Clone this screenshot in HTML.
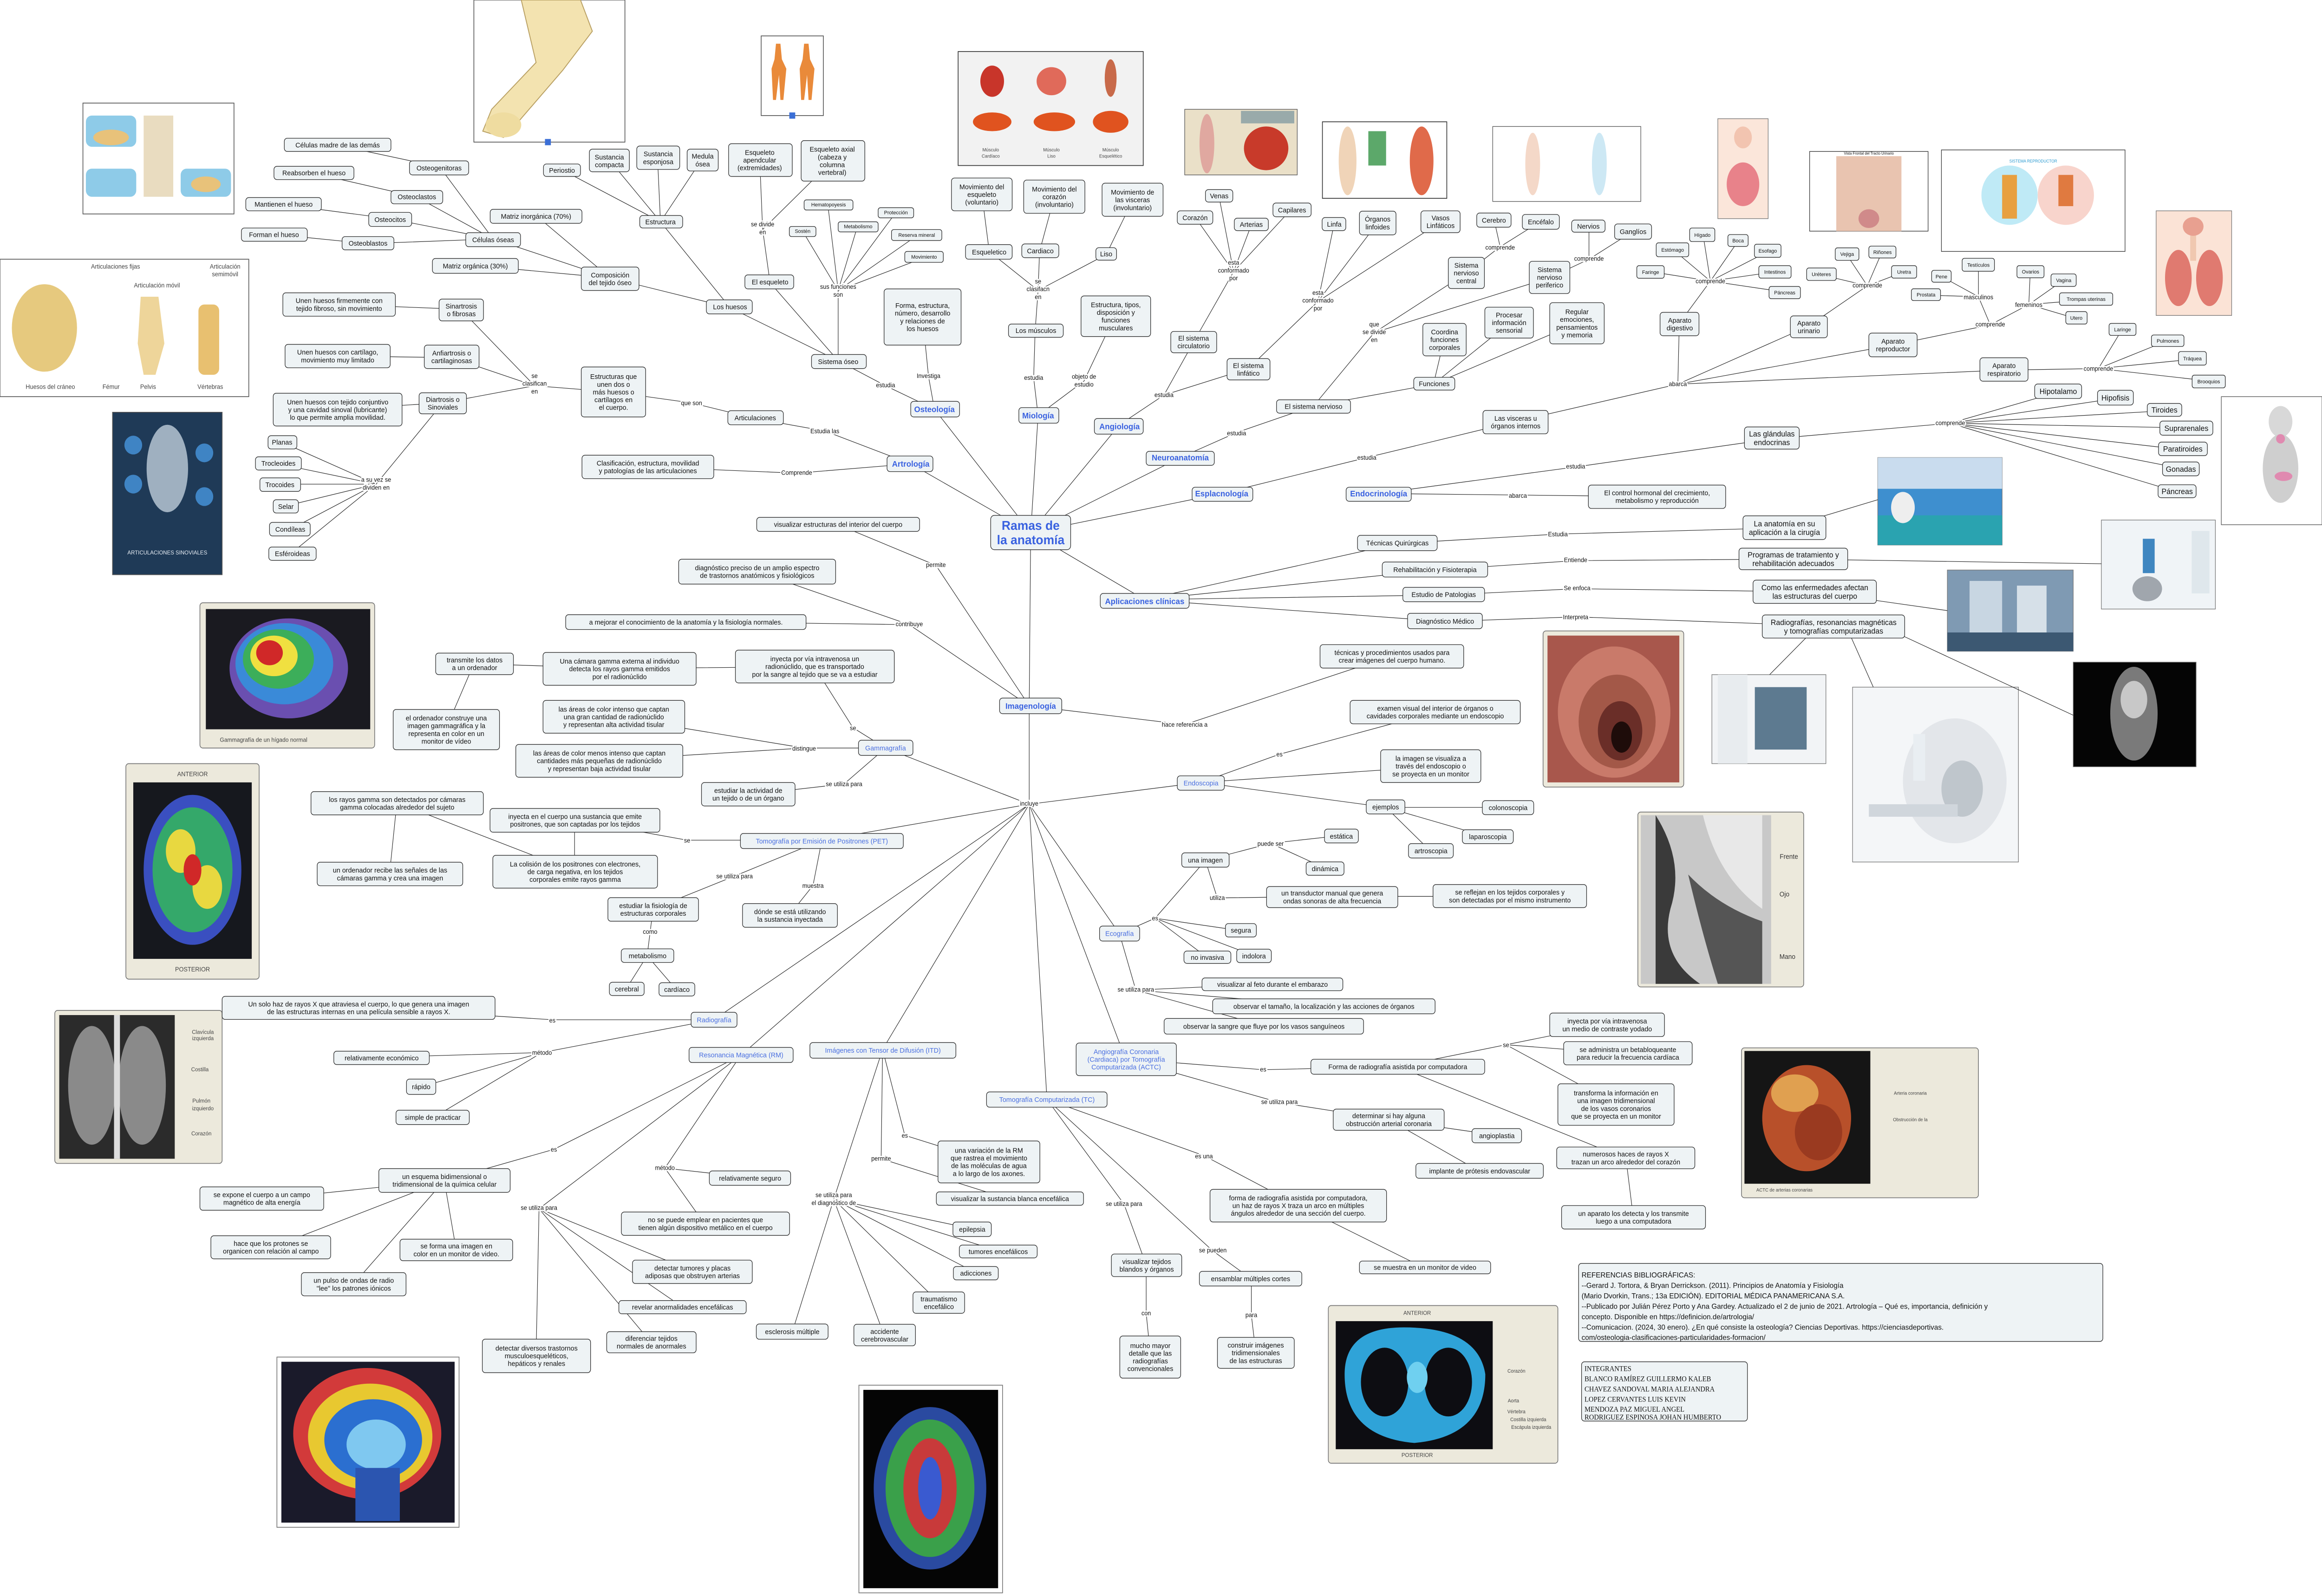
<!DOCTYPE html>
<html><head><meta charset="utf-8">
<style>
html,body{margin:0;padding:0;background:#fff;overflow:hidden;width:100vw;height:100vh}
svg{display:block;width:100vw;height:100vh}
.r{fill:#eef3f5;stroke:#2a2a2a;stroke-width:.4}
text{font-family:"Liberation Sans",sans-serif;font-size:4.5px;fill:#111;text-anchor:middle}
.b{font-size:5.3px;font-weight:bold;fill:#3a62e0}
.bl{fill:#4a6fe0}
.s{font-size:3.4px}
.m{font-size:5px}
.l{font-size:4px;paint-order:stroke;stroke:#fff;stroke-width:1.6px}
.e{fill:none;stroke:#222;stroke-width:.35}
.cap{font-size:3px;fill:#444}
</style></head><body>
<svg viewBox="0 0 1568 1022" preserveAspectRatio="none" xmlns="http://www.w3.org/2000/svg">
<rect width="1568" height="1022" fill="#fff"/>

<!-- ============ IMAGES ============ -->
<rect x="320" y="0" width="102" height="91" fill="#fff" stroke="#555" stroke-width=".5"/>
<path d="M352 0 L392 0 L400 20 L380 45 L350 78 L340 88 L326 84 L332 70 L362 40 Z" fill="#f3e3b0" stroke="#b9a063" stroke-width=".6"/>
<ellipse cx="340" cy="80" rx="12" ry="8" fill="#efdca0"/>
<rect x="368" y="89" width="4" height="4" fill="#3b6fd6"/>
<rect x="514" y="23" width="42" height="51" fill="#fff" stroke="#555" stroke-width=".5"/>
<path d="M524 28 l3 0 l1 10 l3 6 l-2 20 l-2 0 l-1 -16 l-2 16 l-2 0 l-1 -20 l2 -6z" fill="#e98a3a"/>
<path d="M543 28 l3 0 l1 10 l3 6 l-2 20 l-2 0 l-1 -16 l-2 16 l-2 0 l-1 -20 l2 -6z" fill="#e98a3a"/>
<rect x="533" y="72" width="4" height="4" fill="#3b6fd6"/>
<rect x="647" y="33" width="125" height="73" fill="#f2f2f2" stroke="#333" stroke-width=".5"/>
<ellipse cx="670" cy="52" rx="8" ry="10" fill="#c8352a"/><ellipse cx="710" cy="52" rx="10" ry="9" fill="#e06a5a"/><ellipse cx="750" cy="50" rx="4" ry="12" fill="#c86a4a"/>
<ellipse cx="670" cy="78" rx="13" ry="6" fill="#e0531f"/><ellipse cx="712" cy="78" rx="14" ry="6" fill="#e0531f"/><ellipse cx="750" cy="78" rx="12" ry="7" fill="#e0531f"/>
<text class="cap" x="669" y="97">Músculo</text><text class="cap" x="669" y="101">Cardíaco</text>
<text class="cap" x="710" y="97">Músculo</text><text class="cap" x="710" y="101">Liso</text>
<text class="cap" x="750" y="97">Músculo</text><text class="cap" x="750" y="101">Esquelético</text>
<rect x="56" y="66" width="102" height="71" fill="#fff" stroke="#555" stroke-width=".5"/>
<rect x="58" y="74" width="34" height="20" rx="4" fill="#8ecbe8"/><rect x="58" y="108" width="34" height="18" rx="4" fill="#8ecbe8"/>
<rect x="97" y="74" width="20" height="52" fill="#e9dcc0"/><rect x="122" y="108" width="34" height="18" rx="4" fill="#8ecbe8"/>
<ellipse cx="75" cy="88" rx="12" ry="5" fill="#e8c27a"/><ellipse cx="139" cy="118" rx="10" ry="5" fill="#e8c27a"/>
<rect x="0" y="166" width="168" height="88" fill="#fff" stroke="#555" stroke-width=".5"/>
<ellipse cx="30" cy="210" rx="22" ry="28" fill="#e6c97e"/>
<path d="M95 190 l12 0 l4 30 l-6 20 l-8 0 l-4 -20z" fill="#eed59a"/>
<rect x="134" y="195" width="14" height="45" rx="4" fill="#e8c070"/>
<text class="cap" x="78" y="172" style="font-size:4px">Articulaciones fijas</text>
<text class="cap" x="106" y="184" style="font-size:4px">Articulación móvil</text>
<text class="cap" x="152" y="172" style="font-size:4px">Articulación</text>
<text class="cap" x="152" y="177" style="font-size:4px">semimóvil</text>
<text class="cap" x="34" y="249" style="font-size:4px">Huesos del cráneo</text>
<text class="cap" x="75" y="249" style="font-size:4px">Fémur</text><text class="cap" x="100" y="249" style="font-size:4px">Pelvis</text>
<text class="cap" x="142" y="249" style="font-size:4px">Vértebras</text>
<rect x="76" y="264" width="74" height="104" fill="#1f3a57" stroke="#555" stroke-width=".5"/>
<ellipse cx="113" cy="300" rx="14" ry="28" fill="#9fb0c0"/>
<circle cx="90" cy="285" r="6" fill="#3f84c4"/><circle cx="90" cy="310" r="6" fill="#3f84c4"/><circle cx="138" cy="290" r="6" fill="#3f84c4"/><circle cx="138" cy="318" r="6" fill="#3f84c4"/>
<text x="113" y="355" style="font-size:3.6px;fill:#e8eef5">ARTICULACIONES SINOVIALES</text>
<rect x="135" y="386" width="118" height="93" fill="#ece9dc" stroke="#777" stroke-width=".5" rx="2"/>
<rect x="139" y="390" width="111" height="77" fill="#1a1a20"/>
<ellipse cx="195" cy="428" rx="40" ry="32" fill="#6a4fb0"/><ellipse cx="192" cy="425" rx="33" ry="26" fill="#3a8ad8"/>
<ellipse cx="188" cy="422" rx="24" ry="19" fill="#3cae5a"/><ellipse cx="185" cy="420" rx="16" ry="13" fill="#f0e040"/><ellipse cx="182" cy="418" rx="9" ry="8" fill="#d02828"/>
<text class="cap" x="178" y="475" style="font-size:3.8px">Gammagrafía de un hígado normal</text>
<rect x="85" y="489" width="90" height="138" fill="#ece9dc" stroke="#777" stroke-width=".5" rx="2"/>
<text class="cap" x="130" y="497" style="font-size:4px">ANTERIOR</text>
<rect x="90" y="501" width="80" height="113" fill="#16181e"/>
<ellipse cx="130" cy="557" rx="33" ry="48" fill="#3a4fc0"/><ellipse cx="130" cy="557" rx="27" ry="40" fill="#34a86a"/>
<ellipse cx="122" cy="545" rx="10" ry="14" fill="#e8d840"/><ellipse cx="140" cy="568" rx="10" ry="14" fill="#e8d840"/><ellipse cx="130" cy="557" rx="6" ry="10" fill="#d02828"/>
<text class="cap" x="130" y="622" style="font-size:4px">POSTERIOR</text>
<rect x="37" y="647" width="113" height="98" fill="#ece9dc" stroke="#777" stroke-width=".5" rx="2"/>
<rect x="40" y="650" width="78" height="92" fill="#2b2b2b"/>
<ellipse cx="62" cy="695" rx="16" ry="38" fill="#8a8a8a"/><ellipse cx="96" cy="695" rx="16" ry="38" fill="#8a8a8a"/><rect x="77" y="650" width="4" height="92" fill="#ddd"/>
<text class="cap" x="137" y="662" style="font-size:3.6px">Clavícula</text><text class="cap" x="137" y="666" style="font-size:3.6px">izquierda</text>
<text class="cap" x="135" y="686" style="font-size:3.6px">Costilla</text>
<text class="cap" x="136" y="706" style="font-size:3.6px">Pulmón</text><text class="cap" x="137" y="711" style="font-size:3.6px">izquierdo</text>
<text class="cap" x="136" y="727" style="font-size:3.6px">Corazón</text>
<rect x="187" y="869" width="123" height="109" fill="#fff" stroke="#777" stroke-width=".5"/>
<rect x="190" y="872" width="117" height="103" fill="#1a1a2a"/>
<ellipse cx="248" cy="918" rx="50" ry="42" fill="#d23a3a"/><ellipse cx="250" cy="920" rx="42" ry="34" fill="#e8c830"/><ellipse cx="252" cy="922" rx="33" ry="26" fill="#2b6fd0"/><ellipse cx="254" cy="925" rx="20" ry="16" fill="#7fc8f0"/>
<rect x="240" y="940" width="30" height="34" fill="#2b55b0"/>
<rect x="580" y="887" width="97" height="133" fill="#fff" stroke="#777" stroke-width=".5"/>
<rect x="583" y="890" width="91" height="127" fill="#050505"/>
<ellipse cx="628" cy="953" rx="38" ry="52" fill="#2a4aa0"/><ellipse cx="628" cy="953" rx="30" ry="44" fill="#3aa04a"/><ellipse cx="628" cy="953" rx="18" ry="32" fill="#c83a3a"/><ellipse cx="628" cy="953" rx="8" ry="20" fill="#3a5ad0"/>
<rect x="897" y="836" width="155" height="101" fill="#ece9dc" stroke="#777" stroke-width=".5" rx="2"/>
<text class="cap" x="957" y="842" style="font-size:3.6px">ANTERIOR</text>
<rect x="902" y="846" width="106" height="82" fill="#0d0d12"/>
<path d="M908 880 q0 -30 40 -30 q50 0 55 30 q0 40 -48 44 q-47 -4 -47 -44z" fill="#2fa3d8"/>
<ellipse cx="935" cy="885" rx="16" ry="22" fill="#0d0d12"/><ellipse cx="978" cy="885" rx="16" ry="22" fill="#0d0d12"/><ellipse cx="957" cy="882" rx="7" ry="10" fill="#6fd0f0"/>
<text class="cap" x="957" y="933" style="font-size:3.6px">POSTERIOR</text>
<text class="cap" x="1024" y="879" style="font-size:3.2px">Corazón</text><text class="cap" x="1022" y="898" style="font-size:3.2px">Aorta</text>
<text class="cap" x="1024" y="905" style="font-size:3.2px">Vértebra</text><text class="cap" x="1032" y="910" style="font-size:3.2px">Costilla izquierda</text><text class="cap" x="1034" y="915" style="font-size:3.2px">Escápula izquierda</text>
<rect x="1176" y="671" width="160" height="96" fill="#ece9dc" stroke="#777" stroke-width=".5" rx="2"/>
<rect x="1178" y="673" width="85" height="85" fill="#151515"/>
<ellipse cx="1220" cy="716" rx="30" ry="34" fill="#b8502a"/><ellipse cx="1212" cy="700" rx="16" ry="12" fill="#e0a050"/><ellipse cx="1228" cy="725" rx="16" ry="18" fill="#9a3a20"/>
<text class="cap" x="1290" y="701" style="font-size:3px">Arteria coronaria</text><text class="cap" x="1290" y="718" style="font-size:3px">Obstrucción de la</text>
<text class="cap" x="1205" y="763" style="font-size:3px">ACTC de arterias coronarias</text>
<rect x="1106" y="520" width="112" height="112" fill="#ece9dc" stroke="#777" stroke-width=".5" rx="2"/>
<rect x="1108" y="522" width="88" height="108" fill="#c8c8c8"/>
<path d="M1118 522 q20 30 10 60 q-8 30 20 48 l-30 0z" fill="#3a3a3a"/><path d="M1150 522 q10 40 40 60 l0 -60z" fill="#e8e8e8"/>
<path d="M1140 560 q20 20 50 30 l0 40 l-30 0 q-10 -30 -20 -70z" fill="#555"/>
<text x="1208" y="550" style="font-size:4.3px;fill:#333">Frente</text><text x="1205" y="574" style="font-size:4.3px;fill:#333">Ojo</text><text x="1207" y="614" style="font-size:4.3px;fill:#333">Mano</text>
<rect x="1042" y="404" width="95" height="100" fill="#ece9dc" stroke="#777" stroke-width=".5" rx="2"/>
<rect x="1045" y="407" width="89" height="94" fill="#a8574c"/>
<ellipse cx="1090" cy="456" rx="38" ry="42" fill="#c97a6a"/><ellipse cx="1092" cy="462" rx="26" ry="30" fill="#a35848"/><ellipse cx="1094" cy="468" rx="15" ry="19" fill="#6a2e28"/><ellipse cx="1095" cy="472" rx="7" ry="10" fill="#1e0c0a"/>
<rect x="1156" y="432" width="77" height="57" fill="#f2f4f6" stroke="#777" stroke-width=".4"/>
<rect x="1185" y="440" width="35" height="40" fill="#5d7a90"/><rect x="1160" y="432" width="20" height="57" fill="#e8ecef"/>
<rect x="1251" y="440" width="112" height="112" fill="#f4f6f8" stroke="#777" stroke-width=".4"/>
<ellipse cx="1320" cy="500" rx="35" ry="40" fill="#e3e6ea"/><ellipse cx="1325" cy="505" rx="14" ry="18" fill="#bfc6cc"/>
<rect x="1262" y="515" width="60" height="8" fill="#d0d6dc"/><rect x="1292" y="470" width="8" height="30" fill="#e9eef2"/>
<rect x="1400" y="424" width="83" height="67" fill="#050505" stroke="#777" stroke-width=".4"/>
<ellipse cx="1441" cy="457" rx="16" ry="30" fill="#7a7a7a"/><ellipse cx="1441" cy="448" rx="9" ry="12" fill="#c8c8c8"/>
<rect x="1268" y="293" width="84" height="56" fill="#3e8fcf" stroke="#777" stroke-width=".4"/>
<rect x="1268" y="293" width="84" height="20" fill="#c9dcee"/><rect x="1268" y="330" width="84" height="19" fill="#2aa3b0"/>
<ellipse cx="1285" cy="325" rx="8" ry="10" fill="#eee"/>
<rect x="1419" y="333" width="77" height="57" fill="#f0f4f7" stroke="#777" stroke-width=".4"/>
<ellipse cx="1450" cy="377" rx="10" ry="8" fill="#a0a6ad"/><rect x="1447" y="345" width="8" height="22" fill="#3f86c0"/><rect x="1480" y="340" width="12" height="40" fill="#dfe7ec"/>
<rect x="1315" y="365" width="85" height="52" fill="#7f9ab3" stroke="#777" stroke-width=".4"/>
<rect x="1330" y="372" width="22" height="35" fill="#c8d6e2"/><rect x="1362" y="375" width="20" height="32" fill="#d6e0e8"/><rect x="1315" y="405" width="85" height="12" fill="#3c5872"/>
<rect x="1500" y="254" width="68" height="82" fill="#fff" stroke="#555" stroke-width=".4"/>
<ellipse cx="1540" cy="270" rx="8" ry="10" fill="#d8d8d8"/><ellipse cx="1540" cy="300" rx="12" ry="22" fill="#cfcfcf"/><ellipse cx="1540" cy="281" rx="3" ry="3" fill="#e08ab0"/><ellipse cx="1542" cy="305" rx="6" ry="3" fill="#e08ab0"/>
<rect x="1456" y="135" width="51" height="67" fill="#fbe3d6" stroke="#777" stroke-width=".4"/>
<ellipse cx="1471" cy="178" rx="9" ry="18" fill="#e07a70"/><ellipse cx="1492" cy="178" rx="9" ry="18" fill="#e07a70"/><rect x="1479" y="145" width="4" height="22" fill="#f0c8b0"/><ellipse cx="1481" cy="145" rx="7" ry="6" fill="#e8a090"/>
<rect x="1311" y="96" width="124" height="65" fill="#fff" stroke="#333" stroke-width=".4"/>
<circle cx="1357" cy="125" r="19" fill="#bfeaf6"/><circle cx="1395" cy="125" r="19" fill="#f8d4cc"/>
<rect x="1352" y="112" width="10" height="28" fill="#e8a040"/><rect x="1390" y="112" width="10" height="20" fill="#e07a40"/>
<text x="1373" y="104" style="font-size:2.6px;fill:#2a9ad0">SISTEMA REPRODUCTOR</text>
<rect x="1222" y="97" width="80" height="51" fill="#fff" stroke="#333" stroke-width=".4"/>
<rect x="1240" y="100" width="44" height="48" fill="#e9c4b0"/><ellipse cx="1262" cy="140" rx="7" ry="6" fill="#d08a8a"/>
<text x="1262" y="99" style="font-size:2.4px">Vista Frontal del Tracto Urinario</text>
<rect x="1160" y="76" width="34" height="64" fill="#fbe6da" stroke="#777" stroke-width=".4"/>
<ellipse cx="1177" cy="88" rx="6" ry="7" fill="#f2c4b0"/><ellipse cx="1177" cy="118" rx="11" ry="14" fill="#e8828a"/>
<rect x="1008" y="81" width="100" height="48" fill="#fff" stroke="#555" stroke-width=".4"/>
<ellipse cx="1035" cy="105" rx="5" ry="20" fill="#f4d8c8"/><ellipse cx="1080" cy="105" rx="5" ry="20" fill="#cde8f4"/>
<rect x="893" y="78" width="84" height="49" fill="#fff" stroke="#333" stroke-width=".5"/>
<ellipse cx="910" cy="103" rx="6" ry="22" fill="#f0d4b8"/><rect x="924" y="84" width="12" height="22" fill="#5ca86a"/><ellipse cx="960" cy="103" rx="8" ry="22" fill="#e06a4a"/>
<rect x="800" y="70" width="76" height="42" fill="#eae0c8" stroke="#555" stroke-width=".4"/>
<ellipse cx="815" cy="92" rx="5" ry="19" fill="#e0a8a0"/><ellipse cx="855" cy="95" rx="15" ry="14" fill="#c83a2a"/><rect x="838" y="71" width="36" height="8" fill="#9aa"/>

<!-- ============ EDGES ============ -->
<path class="e" d="
M696 341 L631 262 M696 341 L615 297 M696 341 L701 266 M696 341 L756 272 M696 341 L797 293 M696 341 L825 316 M696 341 L773 384 M696 341 L695 452
M695 452 L632 362 L566 336 M695 452 L614 400 L463 398 M614 400 L511 366
M631 262 L598 247 L566 231 M631 262 L627 241 L623 203
M566 231 L493 197 M566 231 L520 181 M566 231 L566 186 L542 148 M566 186 L559 131 M566 186 L579 145 M566 186 L605 136 M566 186 L619 151 M566 186 L624 165
M520 181 L515 147 L513 102 M515 147 L562 103
M493 197 L446 142 M493 197 L412 178
M446 142 L380 109 M446 142 L412 103 M446 142 L444 101 M446 142 L474 102
M412 178 L362 138 M412 178 L333 153 M412 178 L321 170
M333 153 L297 107 M333 153 L281 126 M333 153 L263 140 M333 153 L248 156
M297 107 L228 93 M281 126 L212 111 M263 140 L191 131 M248 156 L185 150
M615 297 L557 276 L510 268 M615 297 L538 303 L438 299
M510 268 L467 258 L414 251 M414 251 L361 247 L311 198 M361 247 L305 229 M361 247 L299 258
M311 198 L229 195 M305 229 L228 228 M299 258 L228 262 M299 258 L254 310 L190 283 M254 310 L188 297 M254 310 L189 310 M254 310 L193 324 M254 310 L196 339 M254 310 L197 354
M701 266 L698 242 L699 212 M701 266 L732 244 L753 202
M699 212 L701 186 L668 161 M701 186 L702 161 M701 186 L747 163
M668 161 L663 124 M702 161 L712 126 M747 163 L765 128
M756 272 L786 253 L806 219 M786 253 L843 236
M806 219 L833 174 L823 125 M833 174 L807 139 M833 174 L845 144 M833 174 L872 134
M843 236 L890 193 L901 143 M890 193 L930 143 M890 193 L973 142
M797 293 L835 277 L887 260
M887 260 L928 213 L990 175 M928 213 L1046 178 M887 260 L968 246
M990 175 L1013 158 L1009 141 M1013 158 L1040 142 M1046 178 L1073 166 L1073 145 M1073 166 L1103 148
M968 246 L975 218 M968 246 L1019 207 M968 246 L1065 207
M825 316 L923 293 L1023 270
M1023 270 L1133 246 L1134 207 M1133 246 L1221 209 M1133 246 L1278 221 M1133 246 L1353 237
M1134 207 L1155 180 L1115 174 M1155 180 L1130 160 M1155 180 L1150 150 M1155 180 L1174 154 M1155 180 L1194 161 M1155 180 L1199 174 M1155 180 L1205 187
M1221 209 L1261 183 L1230 176 M1261 183 L1247 163 M1261 183 L1271 161 M1261 183 L1286 174
M1278 221 L1344 208 L1336 190 L1336 170 M1336 190 L1311 177 M1336 190 L1301 189 M1344 208 L1370 195 L1371 174 M1370 195 L1394 179 M1370 195 L1409 192 M1370 195 L1402 204
M1353 237 L1417 236 L1433 211 M1417 236 L1464 218 M1417 236 L1481 230 M1417 236 L1492 244
M931 316 L1064 299 L1197 281 M1197 281 L1317 271 L1390 251 M1317 271 L1429 255 M1317 271 L1462 263 M1317 271 L1476 274 M1317 271 L1474 288 M1317 271 L1473 300 M1317 271 L1470 315
M931 316 L1025 317 L1119 318
M773 384 L944 348 M773 384 L969 365 M773 384 L975 381 M773 384 L976 398
M944 348 L1052 342 L1205 338 L1268 320 M969 365 L1064 359 L1211 358 L1419 361 M975 381 L1065 377 L1226 379 L1315 391 M976 398 L1064 395 L1238 401
M1220 408 L1195 432 M1250 408 L1265 440 M1280 405 L1400 458
M695 452 L800 464 L940 420
M695 452 L695 515 L598 479 M695 515 L555 538 M695 515 L811 501 M695 515 L756 598 M695 515 L760 678 M695 515 L707 704 M695 515 L596 672 M695 515 L500 676 M695 515 L482 653
M598 479 L576 466 L550 427 M550 427 L418 428 M418 428 L320 425 M320 425 L301 467 M598 479 L543 479 L415 459 M543 479 L405 487 M598 479 L570 502 L505 509
M555 538 L464 538 L388 525 M388 525 L388 558 M388 558 L268 514 M268 514 L263 560 M555 538 L496 561 L441 582 M555 538 L549 567 L533 586 M441 582 L439 597 L437 612 M437 612 L423 633 M437 612 L457 634
M482 653 L373 653 L242 645 M482 653 L366 674 L258 677 M366 674 L284 696 M366 674 L292 716
M500 676 L374 736 L300 756 M300 756 L177 768 M300 756 L183 799 M300 756 L239 822 M300 756 L308 800
M500 676 L449 748 L506 754 M449 748 L476 784 M500 676 L364 774 L468 814 M364 774 L461 837 M364 774 L440 860 M364 774 L362 868
M596 672 L611 727 L668 744 M596 672 L595 742 L682 768 M596 672 L563 768 L657 787 M563 768 L674 801 M563 768 L659 815 M563 768 L634 834 M563 768 L535 853 M563 768 L597 855
M811 501 L864 483 L969 456 M811 501 L966 491 M811 501 L936 517 M936 517 L1018 517 M936 517 L1005 536 M936 517 L966 545
M756 598 L780 588 L814 551 M780 588 L838 596 M780 588 L815 613 M780 588 L847 612 M814 551 L858 540 L906 535 M858 540 L895 556 M814 551 L822 575 L900 574 M900 574 L1020 574
M756 598 L767 634 L859 630 M767 634 L894 644 M767 634 L854 657
M760 678 L853 685 L944 683 M944 683 L1017 669 L1085 656 M1017 669 L1099 675 M1017 669 L1091 707 M944 683 L1098 742 M1098 742 L1103 780
M760 678 L864 706 L938 717 M938 717 L1011 727 M938 717 L999 750
M707 704 L813 740 L877 772 M877 772 L962 812 M707 704 L759 771 L774 810 M774 810 L774 841 L777 869 M707 704 L819 801 L845 819 M845 819 L845 842 L848 866
"/>

<!-- ============ NODES ============ -->
<rect class="r" x="669" y="330" width="54" height="22" rx="2.5"/>
<text x="696" y="341" style="font-size:8.3px;font-weight:bold;fill:#3a62e0"><tspan x="696" dy="-.2em">Ramas de</tspan><tspan x="696" dy="1.1em">la anatomía</tspan></text>

<rect class="r" x="615" y="257" width="33" height="10" rx="2"/><text class="b" x="631" y="262" dy=".35em">Osteología</text>
<rect class="r" x="599" y="292" width="31" height="10" rx="2"/><text class="b" x="615" y="297" dy=".35em">Artrología</text>
<rect class="r" x="688" y="261" width="27" height="10" rx="2"/><text class="b" x="701" y="266" dy=".35em">Miología</text>
<rect class="r" x="739" y="268" width="33" height="10" rx="2"/><text class="b" x="756" y="273" dy=".35em">Angiología</text>
<rect class="r" x="774" y="289" width="46" height="9" rx="2"/><text class="b" x="797" y="293" dy=".35em">Neuroanatomía</text>
<rect class="r" x="805" y="312" width="41" height="9" rx="2"/><text class="b" x="825" y="316" dy=".35em">Esplacnología</text>
<rect class="r" x="909" y="312" width="44" height="9" rx="2"/><text class="b" x="931" y="316" dy=".35em">Endocrinología</text>
<rect class="r" x="743" y="380" width="60" height="9.5" rx="2"/><text class="b" x="773" y="385" dy=".35em">Aplicaciones clínicas</text>
<rect class="r" x="675" y="447" width="42" height="10" rx="2"/><text class="b" x="696" y="452" dy=".35em">Imagenología</text>

<rect class="r" x="548" y="227" width="37" height="9" rx="2"/><text x="566" y="231.5" dy=".35em">Sistema óseo</text>
<rect class="r" x="597" y="185" width="52" height="36" rx="2"/><text x="623" y="203"><tspan x="623" dy="-1.3em">Forma, estructura,</tspan><tspan x="623" dy="1.1em">número, desarrollo</tspan><tspan x="623" dy="1.1em">y relaciones de</tspan><tspan x="623" dy="1.1em">los huesos</tspan></text>
<rect class="r" x="477" y="192" width="31" height="9" rx="2"/><text x="493" y="196.5" dy=".35em">Los huesos</text>
<rect class="r" x="503" y="176" width="33" height="9" rx="2"/><text x="520" y="180.5" dy=".35em">El esqueleto</text>
<rect class="r" x="533" y="145" width="18" height="6.5" rx="1.5"/><text class="s" x="542" y="148" dy=".35em">Sostén</text>
<rect class="r" x="543" y="128" width="33" height="6.5" rx="1.5"/><text class="s" x="559.5" y="131" dy=".35em">Hematopoyesis</text>
<rect class="r" x="566" y="142" width="27" height="6.5" rx="1.5"/><text class="s" x="579.5" y="145" dy=".35em">Metabolismo</text>
<rect class="r" x="593" y="133" width="24" height="6.5" rx="1.5"/><text class="s" x="605" y="136" dy=".35em">Protección</text>
<rect class="r" x="602" y="147" width="34" height="7" rx="1.5"/><text class="s" x="619" y="150.5" dy=".35em">Reserva mineral</text>
<rect class="r" x="611" y="161" width="26" height="7" rx="1.5"/><text class="s" x="624" y="164.5" dy=".35em">Movimiento</text>
<rect class="r" x="492" y="92" width="43" height="21" rx="2"/><text x="513" y="102.5"><tspan x="513" dy="-.75em">Esqueleto</tspan><tspan x="513" dy="1.1em">apendcular</tspan><tspan x="513" dy="1.1em">(extremidades)</tspan></text>
<rect class="r" x="541" y="90" width="43" height="26" rx="2"/><text x="562" y="103"><tspan x="562" dy="-1.3em">Esqueleto axial</tspan><tspan x="562" dy="1.1em">(cabeza y</tspan><tspan x="562" dy="1.1em">columna</tspan><tspan x="562" dy="1.1em">vertebral)</tspan></text>
<rect class="r" x="432" y="138" width="29" height="8" rx="2"/><text x="446" y="142" dy=".35em">Estructura</text>
<rect class="r" x="367" y="105" width="25" height="8" rx="2"/><text x="379.5" y="109" dy=".35em">Periostio</text>
<rect class="r" x="398" y="95.5" width="27" height="14.5" rx="2"/><text x="411.5" y="103"><tspan x="411.5" dy="-.2em">Sustancia</tspan><tspan x="411.5" dy="1.1em">compacta</tspan></text>
<rect class="r" x="430" y="93.5" width="29" height="15" rx="2"/><text x="444.5" y="101"><tspan x="444.5" dy="-.2em">Sustancia</tspan><tspan x="444.5" dy="1.1em">esponjosa</tspan></text>
<rect class="r" x="464" y="95.5" width="21" height="14" rx="2"/><text x="474.5" y="102.5"><tspan x="474.5" dy="-.2em">Medula</tspan><tspan x="474.5" dy="1.1em">ósea</tspan></text>
<rect class="r" x="392.5" y="171" width="39" height="15" rx="2"/><text x="412" y="178.5"><tspan x="412" dy="-.2em">Composición</tspan><tspan x="412" dy="1.1em">del tejido óseo</tspan></text>
<rect class="r" x="331" y="134" width="62" height="9" rx="2"/><text x="362" y="138.5" dy=".35em">Matriz inorgánica (70%)</text>
<rect class="r" x="292" y="165.5" width="58" height="9.5" rx="2"/><text x="321" y="170.3" dy=".35em">Matriz orgánica (30%)</text>
<rect class="r" x="314.5" y="149" width="37" height="9" rx="2"/><text x="333" y="153.5" dy=".35em">Células óseas</text>
<rect class="r" x="276.5" y="103" width="40" height="9" rx="2"/><text x="296.5" y="107.5" dy=".35em">Osteogenitoras</text>
<rect class="r" x="264" y="122" width="35" height="8.5" rx="2"/><text x="281.5" y="126" dy=".35em">Osteoclastos</text>
<rect class="r" x="249" y="136" width="29" height="9" rx="2"/><text x="263.5" y="140.5" dy=".35em">Osteocitos</text>
<rect class="r" x="231" y="151.5" width="35" height="8.5" rx="2"/><text x="248.5" y="155.8" dy=".35em">Osteoblastos</text>
<rect class="r" x="192" y="88.5" width="72" height="8.5" rx="2"/><text x="228" y="92.8" dy=".35em">Células madre de las demás</text>
<rect class="r" x="185" y="106.5" width="54" height="8.5" rx="2"/><text x="212" y="110.7" dy=".35em">Reabsorben el hueso</text>
<rect class="r" x="166" y="126.5" width="51" height="8.5" rx="2"/><text x="191.5" y="130.8" dy=".35em">Mantienen el hueso</text>
<rect class="r" x="163" y="146" width="44.5" height="8.5" rx="2"/><text x="185" y="150.2" dy=".35em">Forman el hueso</text>

<rect class="r" x="491.5" y="263" width="37.5" height="9" rx="2"/><text x="510" y="267.5" dy=".35em">Articulaciones</text>
<rect class="r" x="393" y="291.5" width="89" height="15" rx="2"/><text x="437.5" y="299"><tspan x="437.5" dy="-.2em">Clasificación, estructura, movilidad</tspan><tspan x="437.5" dy="1.1em">y patologías de las articulaciones</tspan></text>
<rect class="r" x="392.5" y="235" width="43.5" height="32" rx="2"/><text x="414.3" y="251"><tspan x="414.3" dy="-1.85em">Estructuras que</tspan><tspan x="414.3" dy="1.1em">unen dos o</tspan><tspan x="414.3" dy="1.1em">más huesos o</tspan><tspan x="414.3" dy="1.1em">cartílagos en</tspan><tspan x="414.3" dy="1.1em">el cuerpo.</tspan></text>
<rect class="r" x="296.5" y="191.5" width="30" height="14" rx="2"/><text x="311.5" y="198.5"><tspan x="311.5" dy="-.2em">Sinartrosis</tspan><tspan x="311.5" dy="1.1em">o fibrosas</tspan></text>
<rect class="r" x="286.5" y="221" width="37" height="15" rx="2"/><text x="305" y="228.5"><tspan x="305" dy="-.2em">Anfiartrosis o</tspan><tspan x="305" dy="1.1em">cartilaginosas</tspan></text>
<rect class="r" x="283" y="251.5" width="32" height="13.5" rx="2"/><text x="299" y="258.2"><tspan x="299" dy="-.2em">Diartrosis o</tspan><tspan x="299" dy="1.1em">Sinoviales</tspan></text>
<rect class="r" x="191" y="187.5" width="76" height="15" rx="2"/><text x="229" y="195"><tspan x="229" dy="-.2em">Unen huesos firmemente con</tspan><tspan x="229" dy="1.1em">tejido fibroso, sin movimiento</tspan></text>
<rect class="r" x="192.5" y="220.5" width="71" height="15" rx="2"/><text x="228" y="228"><tspan x="228" dy="-.2em">Unen huesos con cartílago,</tspan><tspan x="228" dy="1.1em">movimiento muy limitado</tspan></text>
<rect class="r" x="184.5" y="251.8" width="87" height="21" rx="2"/><text x="228" y="262.3"><tspan x="228" dy="-.75em">Unen huesos con tejido conjuntivo</tspan><tspan x="228" dy="1.1em">y una cavidad sinoval (lubricante)</tspan><tspan x="228" dy="1.1em">lo que permite amplia movilidad.</tspan></text>
<rect class="r" x="181" y="279" width="19.5" height="8.5" rx="2"/><text x="190.5" y="283.2" dy=".35em">Planas</text>
<rect class="r" x="172.5" y="292.5" width="31" height="8.5" rx="2"/><text x="188" y="296.7" dy=".35em">Trocleoides</text>
<rect class="r" x="175.5" y="306" width="27.5" height="8.7" rx="2"/><text x="189" y="310.3" dy=".35em">Trocoides</text>
<rect class="r" x="184.5" y="320" width="17" height="8.5" rx="2"/><text x="193" y="324.3" dy=".35em">Selar</text>
<rect class="r" x="182" y="334.5" width="27.5" height="8.7" rx="2"/><text x="196" y="338.9" dy=".35em">Condíleas</text>
<rect class="r" x="181.5" y="350.3" width="32" height="8.5" rx="2"/><text x="197.5" y="354.5" dy=".35em">Esféroideas</text>

<rect class="r" x="681" y="207.5" width="37" height="8.5" rx="2"/><text x="699.5" y="211.7" dy=".35em">Los músculos</text>
<rect class="r" x="730" y="189.5" width="47" height="26" rx="2"/><text x="753.5" y="202.5"><tspan x="753.5" dy="-1.3em">Estructura, tipos,</tspan><tspan x="753.5" dy="1.1em">disposición y</tspan><tspan x="753.5" dy="1.1em">funciones</tspan><tspan x="753.5" dy="1.1em">musculares</tspan></text>
<rect class="r" x="652" y="156.6" width="31.5" height="9.4" rx="2"/><text x="668" y="161.3" dy=".35em">Esqueletico</text>
<rect class="r" x="690" y="156.2" width="25" height="8.8" rx="2"/><text x="702.5" y="160.6" dy=".35em">Cardiaco</text>
<rect class="r" x="740" y="158.6" width="14" height="8" rx="2"/><text x="747" y="162.6" dy=".35em">Liso</text>
<rect class="r" x="642.5" y="114" width="41" height="21" rx="2"/><text x="663" y="124.5"><tspan x="663" dy="-.75em">Movimiento del</tspan><tspan x="663" dy="1.1em">esqueleto</tspan><tspan x="663" dy="1.1em">(voluntario)</tspan></text>
<rect class="r" x="691.3" y="115.3" width="41.3" height="21.3" rx="2"/><text x="712" y="126"><tspan x="712" dy="-.75em">Movimiento del</tspan><tspan x="712" dy="1.1em">corazón</tspan><tspan x="712" dy="1.1em">(involuntario)</tspan></text>
<rect class="r" x="744.2" y="117.3" width="41.2" height="21.2" rx="2"/><text x="764.8" y="128"><tspan x="764.8" dy="-.75em">Movimiento de</tspan><tspan x="764.8" dy="1.1em">las visceras</tspan><tspan x="764.8" dy="1.1em">(involuntario)</tspan></text>

<rect class="r" x="790.6" y="212.2" width="31" height="13.7" rx="2"/><text x="806" y="219"><tspan x="806" dy="-.2em">El sistema</tspan><tspan x="806" dy="1.1em">circulatorio</tspan></text>
<rect class="r" x="828.6" y="229.6" width="29" height="13.7" rx="2"/><text x="843" y="236.5"><tspan x="843" dy="-.2em">El sistema</tspan><tspan x="843" dy="1.1em">linfático</tspan></text>
<rect class="r" x="814" y="121.4" width="18.5" height="8" rx="2"/><text x="823.3" y="125.4" dy=".35em">Venas</text>
<rect class="r" x="795" y="135" width="24" height="8.6" rx="2"/><text x="807" y="139.3" dy=".35em">Corazón</text>
<rect class="r" x="833.5" y="139.7" width="23" height="8" rx="2"/><text x="845" y="143.7" dy=".35em">Arterias</text>
<rect class="r" x="859.6" y="130" width="25.8" height="8.8" rx="2"/><text x="872.5" y="134.4" dy=".35em">Capilares</text>
<rect class="r" x="892.8" y="139.3" width="16" height="8.4" rx="2"/><text x="901" y="143.5" dy=".35em">Linfa</text>
<rect class="r" x="918" y="135.2" width="24.7" height="15.2" rx="2"/><text x="930.3" y="142.8"><tspan x="930.3" dy="-.2em">Órganos</tspan><tspan x="930.3" dy="1.1em">linfoides</tspan></text>
<rect class="r" x="959.5" y="135" width="26.5" height="14" rx="2"/><text x="972.8" y="142"><tspan x="972.8" dy="-.2em">Vasos</tspan><tspan x="972.8" dy="1.1em">Linfáticos</tspan></text>

<rect class="r" x="862" y="256" width="50" height="8.6" rx="2"/><text x="887" y="260.3" dy=".35em">El sistema nervioso</text>
<rect class="r" x="978" y="164.8" width="24.4" height="20" rx="2"/><text x="990.2" y="174.8"><tspan x="990.2" dy="-.75em">Sistema</tspan><tspan x="990.2" dy="1.1em">nervioso</tspan><tspan x="990.2" dy="1.1em">central</tspan></text>
<rect class="r" x="1032.7" y="167.3" width="27.4" height="20.7" rx="2"/><text x="1046.4" y="177.6"><tspan x="1046.4" dy="-.75em">Sistema</tspan><tspan x="1046.4" dy="1.1em">nervioso</tspan><tspan x="1046.4" dy="1.1em">periferico</tspan></text>
<rect class="r" x="997.2" y="136.4" width="23.2" height="9.1" rx="2"/><text x="1008.8" y="141" dy=".35em">Cerebro</text>
<rect class="r" x="1028" y="137.3" width="25" height="9.5" rx="2"/><text x="1040.5" y="142" dy=".35em">Encéfalo</text>
<rect class="r" x="1061.3" y="140.9" width="22.6" height="7.8" rx="2"/><text x="1072.6" y="144.8" dy=".35em">Nervios</text>
<rect class="r" x="1090.3" y="143.4" width="25" height="9.8" rx="2"/><text x="1102.8" y="148.3" dy=".35em">Ganglíos</text>
<rect class="r" x="954.7" y="241.6" width="27.7" height="8.2" rx="2"/><text x="968.5" y="245.7" dy=".35em">Funciones</text>
<rect class="r" x="960.8" y="207.1" width="29.3" height="20.8" rx="2"/><text x="975.5" y="217.5"><tspan x="975.5" dy="-.75em">Coordina</tspan><tspan x="975.5" dy="1.1em">funciones</tspan><tspan x="975.5" dy="1.1em">corporales</tspan></text>
<rect class="r" x="1002.7" y="196.7" width="32.8" height="19.8" rx="2"/><text x="1019.1" y="206.6"><tspan x="1019.1" dy="-.75em">Procesar</tspan><tspan x="1019.1" dy="1.1em">información</tspan><tspan x="1019.1" dy="1.1em">sensorial</tspan></text>
<rect class="r" x="1046.5" y="193.8" width="36.8" height="26.4" rx="2"/><text x="1064.9" y="207"><tspan x="1064.9" dy="-1.3em">Regular</tspan><tspan x="1064.9" dy="1.1em">emociones,</tspan><tspan x="1064.9" dy="1.1em">pensamientos</tspan><tspan x="1064.9" dy="1.1em">y memoria</tspan></text>

<rect class="r" x="1001.4" y="262.8" width="44" height="15" rx="2"/><text x="1023.5" y="270.3"><tspan x="1023.5" dy="-.2em">Las visceras u</tspan><tspan x="1023.5" dy="1.1em">órganos internos</tspan></text>
<rect class="r" x="1121" y="200" width="26.3" height="15" rx="2"/><text x="1134.3" y="207.5"><tspan x="1134.3" dy="-.2em">Aparato</tspan><tspan x="1134.3" dy="1.1em">digestivo</tspan></text>
<rect class="r" x="1209" y="202.3" width="25" height="14" rx="2"/><text x="1221.5" y="209.3"><tspan x="1221.5" dy="-.2em">Aparato</tspan><tspan x="1221.5" dy="1.1em">urinario</tspan></text>
<rect class="r" x="1262" y="213.3" width="32.6" height="15.2" rx="2"/><text x="1278.3" y="220.9"><tspan x="1278.3" dy="-.2em">Aparato</tspan><tspan x="1278.3" dy="1.1em">reproductor</tspan></text>
<rect class="r" x="1337" y="229.1" width="32.5" height="15" rx="2"/><text x="1353.3" y="236.6"><tspan x="1353.3" dy="-.2em">Aparato</tspan><tspan x="1353.3" dy="1.1em">respiratorio</tspan></text>
<rect class="r" x="1105.3" y="170.1" width="18.5" height="8.1" rx="1.5"/><text class="s" x="1114.6" y="174.2" dy=".35em">Faringe</text>
<rect class="r" x="1118.4" y="155.5" width="22" height="8.9" rx="1.5"/><text class="s" x="1129.5" y="160" dy=".35em">Estómago</text>
<rect class="r" x="1141" y="146" width="17" height="8.7" rx="1.5"/><text class="s" x="1149.6" y="150.4" dy=".35em">Hígado</text>
<rect class="r" x="1166.8" y="150.2" width="13.7" height="7.6" rx="1.5"/><text class="s" x="1173.7" y="154" dy=".35em">Boca</text>
<rect class="r" x="1184.7" y="156.4" width="18" height="8.4" rx="1.5"/><text class="s" x="1193.7" y="160.6" dy=".35em">Esofago</text>
<rect class="r" x="1187.7" y="170.1" width="21.8" height="8" rx="1.5"/><text class="s" x="1198.6" y="174.1" dy=".35em">Intestinos</text>
<rect class="r" x="1194.6" y="183.4" width="21.2" height="7.9" rx="1.5"/><text class="s" x="1205.2" y="187.4" dy=".35em">Páncreas</text>
<rect class="r" x="1220" y="171.6" width="20" height="8" rx="1.5"/><text class="s" x="1229.9" y="175.6" dy=".35em">Uréteres</text>
<rect class="r" x="1239.3" y="158.7" width="16" height="8" rx="1.5"/><text class="s" x="1247.3" y="162.7" dy=".35em">Vejiga</text>
<rect class="r" x="1262" y="157.6" width="18.3" height="7.6" rx="1.5"/><text class="s" x="1271.2" y="161.4" dy=".35em">Riñones</text>
<rect class="r" x="1277.3" y="170.1" width="17" height="8" rx="1.5"/><text class="s" x="1285.8" y="174.1" dy=".35em">Uretra</text>
<rect class="r" x="1325" y="165.4" width="21.8" height="8.3" rx="1.5"/><text class="s" x="1336" y="169.6" dy=".35em">Testículos</text>
<rect class="r" x="1304.4" y="173.1" width="13.2" height="7.6" rx="1.5"/><text class="s" x="1311" y="177" dy=".35em">Pene</text>
<rect class="r" x="1290.7" y="184.9" width="19.7" height="7.6" rx="1.5"/><text class="s" x="1300.6" y="188.7" dy=".35em">Prostata</text>
<rect class="r" x="1362" y="170.1" width="18.3" height="7.8" rx="1.5"/><text class="s" x="1371.2" y="174" dy=".35em">Ovarios</text>
<rect class="r" x="1385" y="175.4" width="17" height="8" rx="1.5"/><text class="s" x="1393.6" y="179.4" dy=".35em">Vagina</text>
<rect class="r" x="1390.7" y="187.5" width="36" height="8" rx="1.5"/><text class="s" x="1408.7" y="191.5" dy=".35em">Trompas uterinas</text>
<rect class="r" x="1395" y="199.5" width="14.4" height="8" rx="1.5"/><text class="s" x="1402.1" y="203.5" dy=".35em">Utero</text>
<rect class="r" x="1424.2" y="207.1" width="18.2" height="7.7" rx="1.5"/><text class="s" x="1433.3" y="211" dy=".35em">Laringe</text>
<rect class="r" x="1452.8" y="214.5" width="22" height="7.4" rx="1.5"/><text class="s" x="1463.9" y="218.2" dy=".35em">Pulmones</text>
<rect class="r" x="1471.1" y="225.1" width="18.8" height="8.7" rx="1.5"/><text class="s" x="1480.5" y="229.5" dy=".35em">Tráquea</text>
<rect class="r" x="1480.3" y="240.2" width="22.4" height="8.2" rx="1.5"/><text class="s" x="1491.5" y="244.3" dy=".35em">Brooquios</text>

<rect class="r" x="1178" y="273.4" width="37" height="14.2" rx="2"/><text class="m" x="1196.5" y="280.5"><tspan x="1196.5" dy="-.2em">Las glándulas</tspan><tspan x="1196.5" dy="1.1em">endocrinas</tspan></text>
<rect class="r" x="1374" y="245.9" width="31.7" height="9.3" rx="2"/><text class="m" x="1389.9" y="250.6" dy=".35em">Hipotalamo</text>
<rect class="r" x="1416.4" y="249.9" width="24.2" height="9.5" rx="2"/><text class="m" x="1428.5" y="254.7" dy=".35em">Hipofisis</text>
<rect class="r" x="1450" y="258.3" width="23.3" height="8.3" rx="2"/><text class="m" x="1461.6" y="262.5" dy=".35em">Tiroides</text>
<rect class="r" x="1458.5" y="269.6" width="35.8" height="9.1" rx="2"/><text class="m" x="1476.4" y="274.2" dy=".35em">Suprarenales</text>
<rect class="r" x="1457.6" y="283.1" width="33" height="8.7" rx="2"/><text class="m" x="1474" y="287.5" dy=".35em">Paratiroides</text>
<rect class="r" x="1460.3" y="295.8" width="24.8" height="8.9" rx="2"/><text class="m" x="1472.7" y="300.3" dy=".35em">Gonadas</text>
<rect class="r" x="1457.3" y="310.4" width="25.7" height="8.3" rx="2"/><text class="m" x="1470.2" y="314.6" dy=".35em">Páncreas</text>
<rect class="r" x="1072.6" y="310.6" width="92.7" height="15" rx="2"/><text x="1119" y="318"><tspan x="1119" dy="-.2em">El control hormonal del crecimiento,</tspan><tspan x="1119" dy="1.1em">metabolismo y reproducción</tspan></text>

<rect class="r" x="916.7" y="342.8" width="53.8" height="9.8" rx="2"/><text x="943.6" y="347.7" dy=".35em">Técnicas Quirúrgicas</text>
<rect class="r" x="933.4" y="359.9" width="71.2" height="9.6" rx="2"/><text x="969" y="364.7" dy=".35em">Rehabilitación y Fisioterapia</text>
<rect class="r" x="947.3" y="376.1" width="55.2" height="9.2" rx="2"/><text x="974.9" y="380.7" dy=".35em">Estudio de Patologias</text>
<rect class="r" x="950.5" y="392.7" width="50.5" height="9.9" rx="2"/><text x="975.8" y="397.7" dy=".35em">Diagnóstico Médico</text>
<rect class="r" x="1177" y="330.3" width="56" height="15.2" rx="2"/><text class="m" x="1205" y="338"><tspan x="1205" dy="-.2em">La anatomía en su</tspan><tspan x="1205" dy="1.1em">aplicación a la cirugía</tspan></text>
<rect class="r" x="1174.3" y="351" width="73.4" height="13.8" rx="2"/><text class="m" x="1211" y="358"><tspan x="1211" dy="-.2em">Programas de tratamiento y</tspan><tspan x="1211" dy="1.1em">rehabilitación adecuados</tspan></text>
<rect class="r" x="1183.8" y="371.5" width="83.3" height="14.9" rx="2"/><text class="m" x="1225.5" y="379"><tspan x="1225.5" dy="-.2em">Como las enfermedades afectan</tspan><tspan x="1225.5" dy="1.1em">las estructuras del cuerpo</tspan></text>
<rect class="r" x="1190" y="393.8" width="96.2" height="14.8" rx="2"/><text class="m" x="1238.2" y="401.2"><tspan x="1238.2" dy="-.2em">Radiografías, resonancias magnéticas</tspan><tspan x="1238.2" dy="1.1em">y tomografías computarizadas</tspan></text>

<rect class="r" x="511" y="331.3" width="110" height="9" rx="2"/><text x="566" y="335.8" dy=".35em">visualizar estructuras del interior del cuerpo</text>
<rect class="r" x="458.3" y="358.1" width="106" height="15.9" rx="2"/><text x="511.3" y="366"><tspan x="511.3" dy="-.2em">diagnóstico preciso de un amplio espectro</tspan><tspan x="511.3" dy="1.1em">de trastornos anatómicos y fisiológicos</tspan></text>
<rect class="r" x="382" y="393.6" width="162.3" height="9.5" rx="2"/><text x="463.2" y="398.3" dy=".35em">a mejorar el conocimiento de la anatomía y la fisiología normales.</text>
<rect class="r" x="891.4" y="412.8" width="97" height="15" rx="2"/><text x="940" y="420.3"><tspan x="940" dy="-.2em">técnicas y procedimientos usados para</tspan><tspan x="940" dy="1.1em">crear imágenes del cuerpo humano.</tspan></text>

<rect class="r" x="579.7" y="474" width="36.8" height="9.7" rx="2"/><text class="bl" x="598" y="478.9" dy=".35em">Gammagrafía</text>
<rect class="r" x="496.6" y="416.3" width="107.3" height="21" rx="2"/><text x="550.2" y="426.8"><tspan x="550.2" dy="-.75em">inyecta por vía intravenosa un</tspan><tspan x="550.2" dy="1.1em">radionúclido, que es transportado</tspan><tspan x="550.2" dy="1.1em">por la sangre al tejido que se va a estudiar</tspan></text>
<rect class="r" x="366.7" y="417.8" width="103.4" height="21" rx="2"/><text x="418.4" y="428.3"><tspan x="418.4" dy="-.75em">Una cámara gamma externa al individuo</tspan><tspan x="418.4" dy="1.1em">detecta los rayos gamma emitidos</tspan><tspan x="418.4" dy="1.1em">por el radionúclido</tspan></text>
<rect class="r" x="294.2" y="418.2" width="52.5" height="13.8" rx="2"/><text x="320.5" y="425.1"><tspan x="320.5" dy="-.2em">transmite los datos</tspan><tspan x="320.5" dy="1.1em">a un ordenador</tspan></text>
<rect class="r" x="265.5" y="454.3" width="71.8" height="25.8" rx="2"/><text x="301.4" y="467.2"><tspan x="301.4" dy="-1.3em">el ordenador construye una</tspan><tspan x="301.4" dy="1.1em">imagen gammagráfica y la</tspan><tspan x="301.4" dy="1.1em">representa en color en un</tspan><tspan x="301.4" dy="1.1em">monitor de vídeo</tspan></text>
<rect class="r" x="366.7" y="448.5" width="95.7" height="21" rx="2"/><text x="414.5" y="459"><tspan x="414.5" dy="-.75em">las áreas de color intenso que captan</tspan><tspan x="414.5" dy="1.1em">una gran cantidad de radionúclido</tspan><tspan x="414.5" dy="1.1em">y representan alta actividad tisular</tspan></text>
<rect class="r" x="348.3" y="476.7" width="112.8" height="21" rx="2"/><text x="404.7" y="487.2"><tspan x="404.7" dy="-.75em">las áreas de color menos intenso que captan</tspan><tspan x="404.7" dy="1.1em">cantidades más pequeñas de radionúclido</tspan><tspan x="404.7" dy="1.1em">y representan baja actividad tisular</tspan></text>
<rect class="r" x="473.7" y="501.1" width="63.2" height="15" rx="2"/><text x="505.3" y="508.6"><tspan x="505.3" dy="-.2em">estudiar la actividad de</tspan><tspan x="505.3" dy="1.1em">un tejido o de un órgano</tspan></text>

<rect class="r" x="500" y="533.7" width="110" height="9.7" rx="2"/><text class="bl" x="555" y="538.5" dy=".35em">Tomografía por Emisión de Positrones (PET)</text>
<rect class="r" x="330.9" y="517.7" width="114.7" height="15.2" rx="2"/><text x="388.3" y="525.3"><tspan x="388.3" dy="-.2em">inyecta en el cuerpo una sustancia que emite</tspan><tspan x="388.3" dy="1.1em">positrones, que son captadas por los tejidos</tspan></text>
<rect class="r" x="332.8" y="547.7" width="111.2" height="21" rx="2"/><text x="388.4" y="558.2"><tspan x="388.4" dy="-.75em">La colisión de los positrones con electrones,</tspan><tspan x="388.4" dy="1.1em">de carga negativa, en los tejidos</tspan><tspan x="388.4" dy="1.1em">corporales emite rayos gamma</tspan></text>
<rect class="r" x="210" y="506.9" width="116.4" height="14.9" rx="2"/><text x="268.2" y="514.4"><tspan x="268.2" dy="-.2em">los rayos gamma son detectados por cámaras</tspan><tspan x="268.2" dy="1.1em">gamma colocadas alrededor del sujeto</tspan></text>
<rect class="r" x="214.2" y="552.1" width="98.3" height="15.1" rx="2"/><text x="263.4" y="559.7"><tspan x="263.4" dy="-.2em">un ordenador recibe las señales de las</tspan><tspan x="263.4" dy="1.1em">cámaras gamma y crea una imagen</tspan></text>
<rect class="r" x="410.5" y="574.8" width="61.2" height="15.1" rx="2"/><text x="441.1" y="582.4"><tspan x="441.1" dy="-.2em">estudiar la fisiología de</tspan><tspan x="441.1" dy="1.1em">estructuras corporales</tspan></text>
<rect class="r" x="501.4" y="578.6" width="64.1" height="15.2" rx="2"/><text x="533.5" y="586.2"><tspan x="533.5" dy="-.2em">dónde se está utilizando</tspan><tspan x="533.5" dy="1.1em">la sustancia inyectada</tspan></text>
<rect class="r" x="419.5" y="607.6" width="35.5" height="8.7" rx="2"/><text x="437.3" y="612" dy=".35em">metabolismo</text>
<rect class="r" x="411.5" y="629" width="23.5" height="8.5" rx="2"/><text x="423.3" y="633.3" dy=".35em">cerebral</text>
<rect class="r" x="445" y="629.3" width="24.2" height="8.5" rx="2"/><text x="457.1" y="633.6" dy=".35em">cardíaco</text>

<rect class="r" x="466.7" y="648.2" width="31" height="9.6" rx="2"/><text class="bl" x="482.2" y="653" dy=".35em">Radiografía</text>
<rect class="r" x="150" y="638" width="184.3" height="14.8" rx="2"/><text x="242.2" y="645.4"><tspan x="242.2" dy="-.2em">Un solo haz de rayos X que atraviesa el cuerpo, lo que genera una imagen</tspan><tspan x="242.2" dy="1.1em">de las estructuras internas en una película sensible a rayos X.</tspan></text>
<rect class="r" x="225.4" y="673.1" width="64.5" height="8.6" rx="2"/><text x="257.7" y="677.4" dy=".35em">relativamente económico</text>
<rect class="r" x="274.5" y="691" width="19.8" height="9.8" rx="2"/><text x="284.4" y="695.9" dy=".35em">rápido</text>
<rect class="r" x="267.4" y="710.9" width="49.5" height="9.2" rx="2"/><text x="292.2" y="715.5" dy=".35em">simple de practicar</text>

<rect class="r" x="465.3" y="670.7" width="70.3" height="9.7" rx="2"/><text class="bl" x="500.5" y="675.5" dy=".35em">Resonancia Magnética (RM)</text>
<rect class="r" x="255.8" y="748.3" width="88.7" height="15.2" rx="2"/><text x="300.2" y="755.9"><tspan x="300.2" dy="-.2em">un esquema bidimensional o</tspan><tspan x="300.2" dy="1.1em">tridimensional de la química celular</tspan></text>
<rect class="r" x="135" y="760" width="83.6" height="15" rx="2"/><text x="176.8" y="767.5"><tspan x="176.8" dy="-.2em">se expone el cuerpo a un campo</tspan><tspan x="176.8" dy="1.1em">magnético de alta energía</tspan></text>
<rect class="r" x="142.4" y="791.3" width="80.9" height="14.8" rx="2"/><text x="182.9" y="798.7"><tspan x="182.9" dy="-.2em">hace que los protones se</tspan><tspan x="182.9" dy="1.1em">organicen con relación al campo</tspan></text>
<rect class="r" x="270.1" y="793.5" width="76.1" height="13.8" rx="2"/><text x="308.2" y="800.4"><tspan x="308.2" dy="-.2em">se forma una imagen en</tspan><tspan x="308.2" dy="1.1em">color en un monitor de video.</tspan></text>
<rect class="r" x="203.5" y="814.9" width="70.7" height="14.9" rx="2"/><text x="238.9" y="822.4"><tspan x="238.9" dy="-.2em">un pulso de ondas de radio</tspan><tspan x="238.9" dy="1.1em">"lee" los patrones iónicos</tspan></text>
<rect class="r" x="479" y="749.8" width="54.9" height="9.2" rx="2"/><text x="506.5" y="754.4" dy=".35em">relativamente seguro</text>
<rect class="r" x="419.6" y="776.1" width="113.6" height="15" rx="2"/><text x="476.4" y="783.6"><tspan x="476.4" dy="-.2em">no se puede emplear en pacientes que</tspan><tspan x="476.4" dy="1.1em">tienen algún dispositivo metálico en el cuerpo</tspan></text>
<rect class="r" x="427.1" y="806.9" width="80.9" height="15" rx="2"/><text x="467.6" y="814.4"><tspan x="467.6" dy="-.2em">detectar tumores y placas</tspan><tspan x="467.6" dy="1.1em">adiposas que obstruyen arterias</tspan></text>
<rect class="r" x="417.9" y="832.8" width="86" height="8.5" rx="2"/><text x="460.9" y="837" dy=".35em">revelar anormalidades encefálicas</text>
<rect class="r" x="409.7" y="852.7" width="60.4" height="13.6" rx="2"/><text x="439.9" y="859.5"><tspan x="439.9" dy="-.2em">diferenciar tejidos</tspan><tspan x="439.9" dy="1.1em">normales de anormales</tspan></text>
<rect class="r" x="325.7" y="857.5" width="73.1" height="21.5" rx="2"/><text x="362.3" y="868.2"><tspan x="362.3" dy="-.75em">detectar diversos trastornos</tspan><tspan x="362.3" dy="1.1em">musculoesqueléticos,</tspan><tspan x="362.3" dy="1.1em">hepáticos y renales</tspan></text>

<rect class="r" x="546.9" y="667.6" width="98.6" height="10" rx="2"/><text class="bl" x="596.2" y="672.6" dy=".35em">Imágenes con Tensor de Difusión (ITD)</text>
<rect class="r" x="633.4" y="730.6" width="68.8" height="26.9" rx="2"/><text x="667.8" y="744"><tspan x="667.8" dy="-1.3em">una variación de la RM</tspan><tspan x="667.8" dy="1.1em">que rastrea el movimiento</tspan><tspan x="667.8" dy="1.1em">de las moléculas de agua</tspan><tspan x="667.8" dy="1.1em">a lo largo de los axones.</tspan></text>
<rect class="r" x="632.3" y="763.2" width="99.4" height="8.6" rx="2"/><text x="682" y="767.5" dy=".35em">visualizar la sustancia blanca encefálica</text>
<rect class="r" x="643.5" y="782.5" width="25.9" height="9.3" rx="2"/><text x="656.5" y="787.2" dy=".35em">epilepsia</text>
<rect class="r" x="647.8" y="797.3" width="52.6" height="8.2" rx="2"/><text x="674.1" y="801.4" dy=".35em">tumores encefálicos</text>
<rect class="r" x="643.8" y="811" width="30.3" height="8.6" rx="2"/><text x="659" y="815.3" dy=".35em">adicciones</text>
<rect class="r" x="616.5" y="827.3" width="34.9" height="13.7" rx="2"/><text x="634" y="834.2"><tspan x="634" dy="-.2em">traumatismo</tspan><tspan x="634" dy="1.1em">encefálico</tspan></text>
<rect class="r" x="510.7" y="847.8" width="48.5" height="9.8" rx="2"/><text x="535" y="852.7" dy=".35em">esclerosis múltiple</text>
<rect class="r" x="576.6" y="848" width="41.6" height="13.8" rx="2"/><text x="597.4" y="855"><tspan x="597.4" dy="-.2em">accidente</tspan><tspan x="597.4" dy="1.1em">cerebrovascular</tspan></text>

<rect class="r" x="795" y="496.8" width="31.8" height="9.2" rx="2"/><text class="bl" x="811" y="501.4" dy=".35em">Endoscopia</text>
<rect class="r" x="911.7" y="448.5" width="114.9" height="15" rx="2"/><text x="969.2" y="456"><tspan x="969.2" dy="-.2em">examen visual del interior de órganos o</tspan><tspan x="969.2" dy="1.1em">cavidades corporales mediante un endoscopio</tspan></text>
<rect class="r" x="932.3" y="480.1" width="67.7" height="21" rx="2"/><text x="966.2" y="490.6"><tspan x="966.2" dy="-.75em">la imagen se visualiza a</tspan><tspan x="966.2" dy="1.1em">través del endoscopio o</tspan><tspan x="966.2" dy="1.1em">se proyecta en un monitor</tspan></text>
<rect class="r" x="922.6" y="512.2" width="26.1" height="9" rx="2"/><text x="935.7" y="516.7" dy=".35em">ejemplos</text>
<rect class="r" x="1001" y="512.7" width="34.7" height="9" rx="2"/><text x="1018.4" y="517.2" dy=".35em">colonoscopia</text>
<rect class="r" x="987.5" y="531.3" width="34.4" height="8.9" rx="2"/><text x="1004.7" y="535.8" dy=".35em">laparoscopia</text>
<rect class="r" x="951.1" y="540.2" width="30.3" height="9.2" rx="2"/><text x="966.3" y="544.8" dy=".35em">artroscopia</text>

<rect class="r" x="742.5" y="593" width="27.1" height="9.6" rx="2"/><text class="bl" x="756" y="597.8" dy=".35em">Ecografía</text>
<rect class="r" x="798" y="546.1" width="32" height="9.2" rx="2"/><text x="814" y="550.7" dy=".35em">una imagen</text>
<rect class="r" x="894.4" y="530.9" width="22.9" height="8.9" rx="2"/><text x="905.8" y="535.4" dy=".35em">estática</text>
<rect class="r" x="882" y="551.9" width="25.6" height="8.6" rx="2"/><text x="894.8" y="556.2" dy=".35em">dinámica</text>
<rect class="r" x="855.3" y="567.7" width="88.6" height="13.5" rx="2"/><text x="899.6" y="574.4"><tspan x="899.6" dy="-.2em">un transductor manual que genera</tspan><tspan x="899.6" dy="1.1em">ondas sonoras de alta frecuencia</tspan></text>
<rect class="r" x="967.7" y="566.4" width="103.7" height="14.8" rx="2"/><text x="1019.6" y="573.8"><tspan x="1019.6" dy="-.2em">se reflejan en los tejidos corporales y</tspan><tspan x="1019.6" dy="1.1em">son detectadas por el mismo instrumento</tspan></text>
<rect class="r" x="827.5" y="591.4" width="20.9" height="8.6" rx="2"/><text x="838" y="595.7" dy=".35em">segura</text>
<rect class="r" x="799.5" y="609" width="31.7" height="7.9" rx="2"/><text x="815.4" y="613" dy=".35em">no invasiva</text>
<rect class="r" x="835.1" y="607.8" width="23.4" height="8.6" rx="2"/><text x="846.8" y="612.1" dy=".35em">indolora</text>
<rect class="r" x="811.7" y="626.2" width="95.1" height="8.2" rx="2"/><text x="859.3" y="630.3" dy=".35em">visualizar al feto durante el embarazo</text>
<rect class="r" x="818.9" y="639.6" width="150.2" height="9.6" rx="2"/><text x="894" y="644.4" dy=".35em">observar el tamaño, la localización y las acciones de órganos</text>
<rect class="r" x="786.1" y="652.2" width="134.7" height="10" rx="2"/><text x="853.5" y="657.2" dy=".35em">observar la sangre que fluye por los vasos sanguíneos</text>

<rect class="r" x="726.7" y="667.9" width="67.7" height="20.9" rx="2"/><text class="bl" x="760.5" y="678.3"><tspan x="760.5" dy="-.75em">Angiografía Coronaria</tspan><tspan x="760.5" dy="1.1em">(Cardiaca) por Tomografía</tspan><tspan x="760.5" dy="1.1em">Computarizada (ACTC)</tspan></text>
<rect class="r" x="885.2" y="678.3" width="117.4" height="9.6" rx="2"/><text x="943.9" y="683.1" dy=".35em">Forma de radiografía asistida por computadora</text>
<rect class="r" x="1046.5" y="648.7" width="77.5" height="15.1" rx="2"/><text x="1085.3" y="656.3"><tspan x="1085.3" dy="-.2em">inyecta por vía intravenosa</tspan><tspan x="1085.3" dy="1.1em">un medio de contraste yodado</tspan></text>
<rect class="r" x="1055.9" y="667" width="86.8" height="14.9" rx="2"/><text x="1099.3" y="674.5"><tspan x="1099.3" dy="-.2em">se administra un betabloqueante</tspan><tspan x="1099.3" dy="1.1em">para reducir la frecuencia cardíaca</tspan></text>
<rect class="r" x="1052" y="694" width="78.5" height="26.6" rx="2"/><text x="1091.3" y="707.3"><tspan x="1091.3" dy="-1.3em">transforma la información en</tspan><tspan x="1091.3" dy="1.1em">una imagen tridimensional</tspan><tspan x="1091.3" dy="1.1em">de los vasos coronarios</tspan><tspan x="1091.3" dy="1.1em">que se proyecta en un monitor</tspan></text>
<rect class="r" x="1051.2" y="734.5" width="93.3" height="13.9" rx="2"/><text x="1097.9" y="741.5"><tspan x="1097.9" dy="-.2em">numerosos haces de rayos X</tspan><tspan x="1097.9" dy="1.1em">trazan un arco alrededor del corazón</tspan></text>
<rect class="r" x="1054.5" y="772" width="97.2" height="15" rx="2"/><text x="1103.1" y="779.5"><tspan x="1103.1" dy="-.2em">un aparato los detecta y los transmite</tspan><tspan x="1103.1" dy="1.1em">luego a una computadora</tspan></text>
<rect class="r" x="900.3" y="710.2" width="74.9" height="13.6" rx="2"/><text x="937.8" y="717"><tspan x="937.8" dy="-.2em">determinar si hay alguna</tspan><tspan x="937.8" dy="1.1em">obstrucción arterial coronaria</tspan></text>
<rect class="r" x="994" y="722.7" width="33.5" height="9.1" rx="2"/><text x="1010.8" y="727.3" dy=".35em">angioplastia</text>
<rect class="r" x="956.1" y="745" width="86.1" height="9.5" rx="2"/><text x="999.2" y="749.8" dy=".35em">implante de prótesis endovascular</text>

<rect class="r" x="666.2" y="699.2" width="81.4" height="9.8" rx="2"/><text class="bl" x="707" y="704.1" dy=".35em">Tomografía Computarizada (TC)</text>
<rect class="r" x="817.1" y="761.6" width="119.2" height="20.9" rx="2"/><text x="876.7" y="772"><tspan x="876.7" dy="-.75em">forma de radiografía asistida por computadora,</tspan><tspan x="876.7" dy="1.1em">un haz de rayos X traza un arco en múltiples</tspan><tspan x="876.7" dy="1.1em">ángulos alrededor de una sección del cuerpo.</tspan></text>
<rect class="r" x="918" y="807.5" width="88.6" height="8.2" rx="2"/><text x="962.3" y="811.6" dy=".35em">se muestra en un monitor de video</text>
<rect class="r" x="750.5" y="803" width="47.5" height="14.5" rx="2"/><text x="774.3" y="810.3"><tspan x="774.3" dy="-.2em">visualizar tejidos</tspan><tspan x="774.3" dy="1.1em">blandos y órganos</tspan></text>
<rect class="r" x="809.9" y="814.1" width="69.2" height="9.4" rx="2"/><text x="844.5" y="818.8" dy=".35em">ensamblar múltiples cortes</text>
<rect class="r" x="756.2" y="855.5" width="41.1" height="27" rx="2"/><text x="776.8" y="869"><tspan x="776.8" dy="-1.3em">mucho mayor</tspan><tspan x="776.8" dy="1.1em">detalle que las</tspan><tspan x="776.8" dy="1.1em">radiografías</tspan><tspan x="776.8" dy="1.1em">convencionales</tspan></text>
<rect class="r" x="822.1" y="856.4" width="51.9" height="19.8" rx="2"/><text x="848" y="866.3"><tspan x="848" dy="-.75em">construir imágenes</tspan><tspan x="848" dy="1.1em">tridimensionales</tspan><tspan x="848" dy="1.1em">de las estructuras</tspan></text>

<rect class="r" x="1066" y="809" width="354" height="50" rx="2"/>
<text x="1068" y="818" style="text-anchor:start;font-size:4.8px">REFERENCIAS BIBLIOGRÁFICAS:</text>
<text x="1068" y="824.7" style="text-anchor:start;font-size:4.8px">--Gerard J. Tortora, &amp; Bryan Derrickson. (2011). Principios de Anatomía y Fisiología</text>
<text x="1068" y="831.4" style="text-anchor:start;font-size:4.8px">(Mario Dvorkin, Trans.; 13a EDICIÓN). EDITORIAL MÉDICA PANAMERICANA S.A.</text>
<text x="1068" y="838.1" style="text-anchor:start;font-size:4.8px">--Publicado por Julián Pérez Porto y Ana Gardey. Actualizado el 2 de junio de 2021. Artrología – Qué es, importancia, definición y</text>
<text x="1068" y="844.8" style="text-anchor:start;font-size:4.8px"> concepto. Disponible en https://definicion.de/artrologia/</text>
<text x="1068" y="851.5" style="text-anchor:start;font-size:4.8px">--Comunicacion. (2024, 30 enero). ¿En qué consiste la osteología? Ciencias Deportivas. https://cienciasdeportivas.</text>
<text x="1068" y="858" style="text-anchor:start;font-size:4.8px">com/osteologia-clasificaciones-particularidades-formacion/</text>
<rect class="r" x="1068" y="872" width="112" height="38" rx="2"/>
<text x="1070" y="878" style="text-anchor:start;font-family:'Liberation Serif',serif;font-size:4.6px">INTEGRANTES</text>
<text x="1070" y="884.5" style="text-anchor:start;font-family:'Liberation Serif',serif;font-size:4.6px">BLANCO RAMÍREZ GUILLERMO KALEB</text>
<text x="1070" y="891" style="text-anchor:start;font-family:'Liberation Serif',serif;font-size:4.6px">CHAVEZ SANDOVAL MARIA ALEJANDRA</text>
<text x="1070" y="897.5" style="text-anchor:start;font-family:'Liberation Serif',serif;font-size:4.6px">LOPEZ CERVANTES LUIS KEVIN</text>
<text x="1070" y="904" style="text-anchor:start;font-family:'Liberation Serif',serif;font-size:4.6px">MENDOZA PAZ MIGUEL ANGEL</text>
<text x="1070" y="909" style="text-anchor:start;font-family:'Liberation Serif',serif;font-size:4.6px">RODRIGUEZ ESPINOSA JOHAN HUMBERTO</text>

<!-- ============ LINK LABELS ============ -->
<text class="l" x="632" y="363">permite</text>
<text class="l" x="614" y="401">contribuye</text>
<text class="l" x="598" y="248">estudia</text>
<text class="l" x="627" y="242">Investiga</text>
<text class="l" x="566" y="185">sus funciones</text><text class="l" x="566" y="190">son</text>
<text class="l" x="515" y="145">se divide</text><text class="l" x="515" y="150">en</text>
<text class="l" x="557" y="277.5">Estudia las</text>
<text class="l" x="538" y="304">Comprende</text>
<text class="l" x="467" y="259.5">que son</text>
<text class="l" x="361" y="242">se</text><text class="l" x="361" y="247">clasifican</text><text class="l" x="361" y="252">en</text>
<text class="l" x="254" y="308.5">a su vez se</text><text class="l" x="254" y="313.5">dividen en</text>
<text class="l" x="698" y="243.3">estudia</text>
<text class="l" x="732" y="242.5">objeto de</text><text class="l" x="732" y="247.5">estudio</text>
<text class="l" x="701" y="181.5">se</text><text class="l" x="701" y="186.5">clasifacn</text><text class="l" x="701" y="191.5">en</text>
<text class="l" x="786" y="254.3">estudia</text>
<text class="l" x="833" y="169.5">esta</text><text class="l" x="833" y="174.5">conformado</text><text class="l" x="833" y="179.5">por</text>
<text class="l" x="890" y="188.8">esta</text><text class="l" x="890" y="193.8">conformado</text><text class="l" x="890" y="198.8">por</text>
<text class="l" x="835" y="278.7">estudia</text>
<text class="l" x="928" y="209">que</text><text class="l" x="928" y="214">se divide</text><text class="l" x="928" y="219">en</text>
<text class="l" x="1013" y="159.8">comprende</text>
<text class="l" x="1073" y="166.9">comprende</text>
<text class="l" x="923" y="294.4">estudia</text>
<text class="l" x="1133" y="247.2">abarca</text>
<text class="l" x="1155" y="181.4">comprende</text>
<text class="l" x="1261" y="184.1">comprende</text>
<text class="l" x="1344" y="209.1">comprende</text>
<text class="l" x="1336" y="191.7">masculinos</text>
<text class="l" x="1370" y="196.6">femeninos</text>
<text class="l" x="1417" y="237.4">comprende</text>
<text class="l" x="1064" y="300.1">estudia</text>
<text class="l" x="1317" y="272.3">comprende</text>
<text class="l" x="1025" y="318.7">abarca</text>
<text class="l" x="1052" y="343.4">Estudia</text>
<text class="l" x="1064" y="360">Entiende</text>
<text class="l" x="1065" y="377.9">Se enfoca</text>
<text class="l" x="1064" y="396.5">Interpreta</text>
<text class="l" x="800" y="465.3">hace referencia a</text>
<text class="l" x="695" y="515.9">incluye</text>
<text class="l" x="576" y="467.6">se</text>
<text class="l" x="543" y="480.6">distingue</text>
<text class="l" x="570" y="503.4">se utiliza para</text>
<text class="l" x="464" y="539.5">se</text>
<text class="l" x="496" y="562.5">se utiliza para</text>
<text class="l" x="549" y="568.6">muestra</text>
<text class="l" x="439" y="598">como</text>
<text class="l" x="373" y="654.8">es</text>
<text class="l" x="366" y="675.4">método</text>
<text class="l" x="374" y="737.5">es</text>
<text class="l" x="449" y="749.2">método</text>
<text class="l" x="364" y="774.8">se utiliza para</text>
<text class="l" x="611" y="728.5">es</text>
<text class="l" x="595" y="743.3">permite</text>
<text class="l" x="563" y="766.6">se utiliza para</text><text class="l" x="563" y="771.6">el diagnóstico de</text>
<text class="l" x="864" y="484.4">es</text>
<text class="l" x="780" y="589.3">es</text>
<text class="l" x="858" y="541.6">puede ser</text>
<text class="l" x="822" y="576.3">utiliza</text>
<text class="l" x="767" y="635">se utiliza para</text>
<text class="l" x="853" y="686.2">es</text>
<text class="l" x="1017" y="670.5">se</text>
<text class="l" x="864" y="706.9">se utiliza para</text>
<text class="l" x="813" y="741.7">es una</text>
<text class="l" x="759" y="772.2">se utiliza para</text>
<text class="l" x="819" y="802">se pueden</text>
<text class="l" x="774" y="842.3">con</text>
<text class="l" x="845" y="843.4">para</text>
</svg>
</body></html>
